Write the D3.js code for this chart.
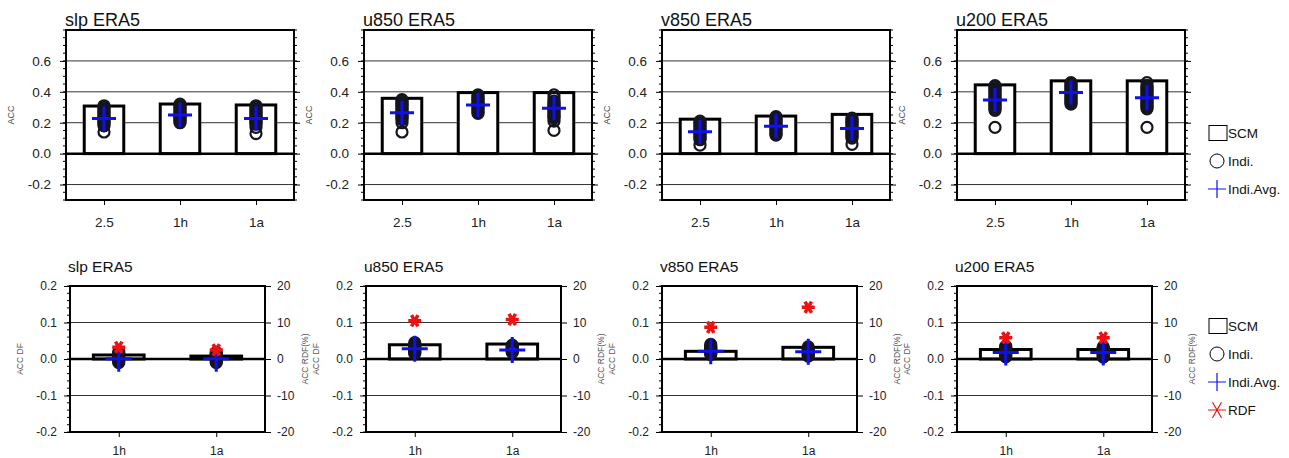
<!DOCTYPE html>
<html><head><meta charset="utf-8">
<script src="https://cdn.jsdelivr.net/npm/d3@7"></script>
<style>
html,body{margin:0;padding:0;background:#fff;}
svg text{font-family:"Liberation Sans",Arial,Helvetica,sans-serif;}
</style></head>
<body><svg id="c" width="1289" height="458"></svg>
<script>
// ---------------- data ----------------
const variables = ["slp", "u850", "v850", "u200"];
const topCategories = ["2.5", "1h", "1a"];
const bottomCategories = ["1h", "1a"];
const topTicks = [-0.2, 0.0, 0.2, 0.4, 0.6];
const bottomTicks = [-0.2, -0.1, 0.0, 0.1, 0.2];
const rdfTicks = [-20, -10, 0, 10, 20];

// top row: ACC of SCM (bars), individual members (circles), member average (plus)
const accSCM = [
  [0.308, 0.321, 0.315],
  [0.358, 0.395, 0.395],
  [0.223, 0.243, 0.254],
  [0.445, 0.471, 0.471]
];
const accIndiAvg = [
  [0.228, 0.250, 0.228],
  [0.265, 0.315, 0.293],
  [0.141, 0.178, 0.163],
  [0.347, 0.395, 0.362]
];
const accIndi = [
  [[0.14, 0.18, 0.19, 0.20, 0.21, 0.22, 0.23, 0.24, 0.25, 0.26, 0.27, 0.28, 0.29, 0.30, 0.31],
   [0.20, 0.21, 0.22, 0.23, 0.24, 0.245, 0.25, 0.26, 0.27, 0.28, 0.29, 0.30, 0.31, 0.32],
   [0.13, 0.17, 0.19, 0.20, 0.21, 0.22, 0.23, 0.24, 0.25, 0.26, 0.27, 0.28, 0.29, 0.30, 0.31]],
  [[0.14, 0.20, 0.22, 0.23, 0.24, 0.25, 0.26, 0.27, 0.28, 0.29, 0.30, 0.31, 0.32, 0.33, 0.34, 0.35],
   [0.26, 0.27, 0.28, 0.29, 0.30, 0.31, 0.32, 0.33, 0.34, 0.35, 0.36, 0.37, 0.38],
   [0.15, 0.21, 0.23, 0.24, 0.25, 0.26, 0.27, 0.28, 0.29, 0.30, 0.31, 0.32, 0.33, 0.34, 0.36, 0.38]],
  [[0.055, 0.09, 0.10, 0.11, 0.12, 0.13, 0.14, 0.15, 0.16, 0.17, 0.18, 0.19, 0.20, 0.21],
   [0.12, 0.13, 0.14, 0.15, 0.16, 0.17, 0.18, 0.19, 0.20, 0.21, 0.22, 0.23, 0.24],
   [0.06, 0.10, 0.11, 0.12, 0.13, 0.14, 0.15, 0.16, 0.17, 0.18, 0.19, 0.20, 0.21, 0.22, 0.23]],
  [[0.17, 0.28, 0.29, 0.30, 0.31, 0.32, 0.33, 0.34, 0.35, 0.36, 0.37, 0.38, 0.39, 0.40, 0.41, 0.42, 0.43, 0.44],
   [0.32, 0.33, 0.34, 0.35, 0.36, 0.37, 0.38, 0.39, 0.40, 0.41, 0.42, 0.43, 0.44, 0.45, 0.46],
   [0.17, 0.29, 0.30, 0.31, 0.32, 0.33, 0.34, 0.35, 0.36, 0.37, 0.38, 0.39, 0.40, 0.41, 0.42, 0.43, 0.44, 0.46]]
];

// bottom row: ACC difference (bars, members, avg) and relative difference in % (stars)
const dfSCM = [
  [0.011, 0.008],
  [0.039, 0.041],
  [0.021, 0.032],
  [0.026, 0.026]
];
const dfIndiAvg = [
  [0.001, 0.001],
  [0.028, 0.025],
  [0.021, 0.020],
  [0.018, 0.018]
];
const dfIndi = [
  [[-0.010, -0.006, -0.003, 0.000, 0.003, 0.006, 0.009, 0.012, 0.015, 0.019],
   [-0.010, -0.006, -0.003, 0.000, 0.003, 0.006, 0.009, 0.012, 0.015, 0.018]],
  [[0.015, 0.018, 0.021, 0.024, 0.027, 0.030, 0.033, 0.036, 0.040, 0.045],
   [0.018, 0.021, 0.024, 0.027, 0.030, 0.033, 0.036, 0.038]],
  [[0.012, 0.015, 0.018, 0.021, 0.024, 0.027, 0.030, 0.033, 0.036, 0.040],
   [0.008, 0.011, 0.014, 0.017, 0.020, 0.023, 0.026, 0.029, 0.033]],
  [[0.006, 0.009, 0.012, 0.015, 0.018, 0.021, 0.024, 0.027, 0.031, 0.035],
   [0.005, 0.008, 0.011, 0.014, 0.017, 0.020, 0.023, 0.027, 0.030, 0.033]]
];
const rdfPercent = [
  [3.2, 2.5],
  [10.5, 10.8],
  [8.7, 14.2],
  [5.8, 5.8]
];

// ---------------- layout ----------------
const svg = d3.select("#c");
const FONT = '"Liberation Sans",Arial,Helvetica,sans-serif';
const BLUE = "#1010ee", RED = "#ee1111";
const topLeft = [66, 364, 662, 957], topW = 228, topY0 = 30, topY1 = 200;
const botLeft = [70, 366, 662, 957], botW = 195, botY0 = 286, botY1 = 432;

function plusPath(s) { return `M${-s/2},0H${s/2}M0,${-s/2}V${s/2}`; }
function starPath(s) {
  let p = "";
  [0, 60, 120].forEach(a => {
    const r = a * Math.PI / 180, dx = Math.cos(r) * s / 2, dy = Math.sin(r) * s / 2;
    p += `M${-dx},${-dy}L${dx},${dy}`;
  });
  return p;
}

function minorTicks(g, yScale, xPos, dir, lo, hi, step, len) {
  const vals = d3.range(Math.round((hi - lo) / step) + 1).map(k => lo + k * step);
  g.selectAll(null).data(vals).join("line")
    .attr("x1", xPos).attr("x2", xPos + dir * len)
    .attr("y1", d => yScale(d)).attr("y2", d => yScale(d))
    .attr("stroke", "#000").attr("stroke-width", 1);
}

// ---------------- top row ----------------
variables.forEach((v, i) => {
  const L = topLeft[i], R = L + topW;
  const g = svg.append("g");
  const x = d3.scaleLinear().domain([0.5, 3.5]).range([L, R]);
  const y = d3.scaleLinear().domain([-0.3, 0.8]).range([topY1, topY0]);

  g.selectAll(null).data(topTicks.filter(t => t !== 0)).join("line")
    .attr("x1", L).attr("x2", R).attr("y1", d => y(d)).attr("y2", d => y(d))
    .attr("stroke", "#333").attr("stroke-width", 1);

  g.selectAll(null).data(accSCM[i]).join("rect")
    .attr("x", (d, k) => x(k + 1 - 0.26)).attr("width", x(1.26) - x(0.74))
    .attr("y", d => y(d)).attr("height", d => y(0) - y(d))
    .attr("fill", "#fff").attr("stroke", "#000").attr("stroke-width", 3);

  g.append("line").attr("x1", L).attr("x2", R).attr("y1", y(0)).attr("y2", y(0))
    .attr("stroke", "#000").attr("stroke-width", 2.5);

  accIndi[i].forEach((arr, k) => {
    g.selectAll(null).data(arr).join("circle")
      .attr("cx", x(k + 1)).attr("cy", d => y(d)).attr("r", 5.5)
      .attr("fill", "none").attr("stroke", "#151520").attr("stroke-width", 2.2);
  });
  g.selectAll(null).data(accIndiAvg[i]).join("path")
    .attr("d", plusPath(24))
    .attr("transform", (d, k) => `translate(${x(k + 1)},${y(d)})`)
    .attr("stroke", BLUE).attr("stroke-width", 3).attr("fill", "none");

  g.append("rect").attr("x", L).attr("y", topY0).attr("width", topW).attr("height", topY1 - topY0)
    .attr("fill", "none").attr("stroke", "#000").attr("stroke-width", 2);

  const yAxis = d3.axisLeft(y).tickValues(topTicks).tickSize(6).tickPadding(9)
    .tickFormat(d => d.toFixed(1));
  const ga = g.append("g").attr("transform", `translate(${L},0)`).call(yAxis);
  ga.select(".domain").remove();
  ga.selectAll("text").attr("font-size", 13.5).attr("fill", "#222").attr("font-family", FONT);
  const gr = g.append("g").attr("transform", `translate(${R},0)`)
    .call(d3.axisRight(y).tickValues(topTicks).tickSize(6).tickFormat(""));
  gr.select(".domain").remove();
  minorTicks(g, y, L, -1, -0.3, 0.8, 0.05, 3);
  minorTicks(g, y, R, 1, -0.3, 0.8, 0.05, 3);

  const xa = g.append("g").attr("transform", `translate(0,${topY1})`)
    .call(d3.axisBottom(x).tickValues([1, 2, 3]).tickSize(5).tickPadding(12)
      .tickFormat((d) => topCategories[d - 1]));
  xa.select(".domain").remove();
  xa.selectAll("text").attr("font-size", 13.5).attr("fill", "#222").attr("font-family", FONT);

  g.append("text").attr("x", L - 1).attr("y", 26).attr("font-size", 18).attr("fill", "#111")
    .text(v + " ERA5");
  g.append("text").attr("transform", `translate(${L - 52},${(topY0 + topY1) / 2}) rotate(-90)`)
    .attr("text-anchor", "middle").attr("font-size", 9).attr("fill", "#444").text("ACC");
});

// ---------------- bottom row ----------------
variables.forEach((v, i) => {
  const L = botLeft[i], R = L + botW;
  const g = svg.append("g");
  const x = d3.scaleLinear().domain([0.5, 2.5]).range([L, R]);
  const y = d3.scaleLinear().domain([-0.2, 0.2]).range([botY1, botY0]);
  const y2 = d3.scaleLinear().domain([-20, 20]).range([botY1, botY0]);

  g.selectAll(null).data([-0.1, 0.1]).join("line")
    .attr("x1", L).attr("x2", R).attr("y1", d => y(d)).attr("y2", d => y(d))
    .attr("stroke", "#333").attr("stroke-width", 1);

  g.selectAll(null).data(dfSCM[i]).join("rect")
    .attr("x", (d, k) => x(k + 1 - 0.26)).attr("width", x(1.26) - x(0.74))
    .attr("y", d => y(d)).attr("height", d => y(0) - y(d))
    .attr("fill", "#fff").attr("stroke", "#000").attr("stroke-width", 3);

  g.append("line").attr("x1", L).attr("x2", R).attr("y1", y(0)).attr("y2", y(0))
    .attr("stroke", "#000").attr("stroke-width", 2.5);

  dfIndi[i].forEach((arr, k) => {
    g.selectAll(null).data(arr).join("circle")
      .attr("cx", x(k + 1)).attr("cy", d => y(d)).attr("r", 5.5)
      .attr("fill", "none").attr("stroke", "#151520").attr("stroke-width", 2.2);
  });
  g.selectAll(null).data(dfIndiAvg[i]).join("path")
    .attr("d", plusPath(26))
    .attr("transform", (d, k) => `translate(${x(k + 1)},${y(d)})`)
    .attr("stroke", BLUE).attr("stroke-width", 3).attr("fill", "none");
  g.selectAll(null).data(rdfPercent[i]).join("path")
    .attr("d", starPath(13))
    .attr("transform", (d, k) => `translate(${x(k + 1)},${y2(d)})`)
    .attr("stroke", RED).attr("stroke-width", 3.5).attr("fill", "none");

  g.append("rect").attr("x", L).attr("y", botY0).attr("width", botW).attr("height", botY1 - botY0)
    .attr("fill", "none").attr("stroke", "#000").attr("stroke-width", 2);

  const ga = g.append("g").attr("transform", `translate(${L},0)`)
    .call(d3.axisLeft(y).tickValues(bottomTicks).tickSize(6).tickPadding(7).tickFormat(d => d.toFixed(1)));
  ga.select(".domain").remove();
  ga.selectAll("text").attr("font-size", 12).attr("fill", "#222").attr("font-family", FONT);
  minorTicks(g, y, L, -1, -0.2, 0.2, 0.02, 3);

  const gr = g.append("g").attr("transform", `translate(${R},0)`)
    .call(d3.axisRight(y2).tickValues(rdfTicks).tickSize(6).tickPadding(6).tickFormat(d => String(d)));
  gr.select(".domain").remove();
  gr.selectAll("text").attr("font-size", 12).attr("fill", "#222").attr("font-family", FONT);

  const xa = g.append("g").attr("transform", `translate(0,${botY1})`)
    .call(d3.axisBottom(x).tickValues([1, 2]).tickSize(5).tickPadding(9)
      .tickFormat(d => bottomCategories[d - 1]));
  xa.select(".domain").remove();
  xa.selectAll("text").attr("font-size", 12).attr("fill", "#222").attr("font-family", FONT);

  g.append("text").attr("x", L - 2).attr("y", 272).attr("font-size", 15.5).attr("fill", "#111")
    .text(v + " ERA5");
  g.append("text").attr("transform", `translate(${L - 47},${(botY0 + botY1) / 2}) rotate(-90)`)
    .attr("text-anchor", "middle").attr("font-size", 8.5).attr("fill", "#555").text("ACC DF");
  g.append("text").attr("transform", `translate(${R + 43},${(botY0 + botY1) / 2}) rotate(-90)`)
    .attr("text-anchor", "middle").attr("font-size", 8.5).attr("fill", "#555").text("ACC RDF(%)");
});

// ---------------- legends ----------------
function legend(y0, withRDF) {
  const g = svg.append("g");
  const xi = 1218, xt = 1228, dy = 28;
  g.append("rect").attr("x", 1209).attr("y", y0 - 7.5).attr("width", 18).attr("height", 15)
    .attr("fill", "none").attr("stroke", "#000").attr("stroke-width", 1);
  g.append("circle").attr("cx", xi - 1).attr("cy", y0 + dy).attr("r", 7)
    .attr("fill", "none").attr("stroke", "#000").attr("stroke-width", 1);
  g.append("path").attr("d", plusPath(18)).attr("transform", `translate(${xi - 1},${y0 + 2 * dy})`)
    .attr("stroke", BLUE).attr("stroke-width", 1.2).attr("fill", "none");
  const labels = ["SCM", "Indi.", "Indi.Avg."];
  if (withRDF) {
    g.append("path").attr("d", starPath(18)).attr("transform", `translate(${xi - 1},${y0 + 3 * dy})`)
      .attr("stroke", RED).attr("stroke-width", 1.2).attr("fill", "none");
    labels.push("RDF");
  }
  g.selectAll(null).data(labels).join("text")
    .attr("x", xt).attr("y", (d, k) => y0 + k * dy + 5)
    .attr("font-size", 13.5).attr("fill", "#111").text(d => d);
}
legend(133, false);
legend(326, true);
</script></body></html>
